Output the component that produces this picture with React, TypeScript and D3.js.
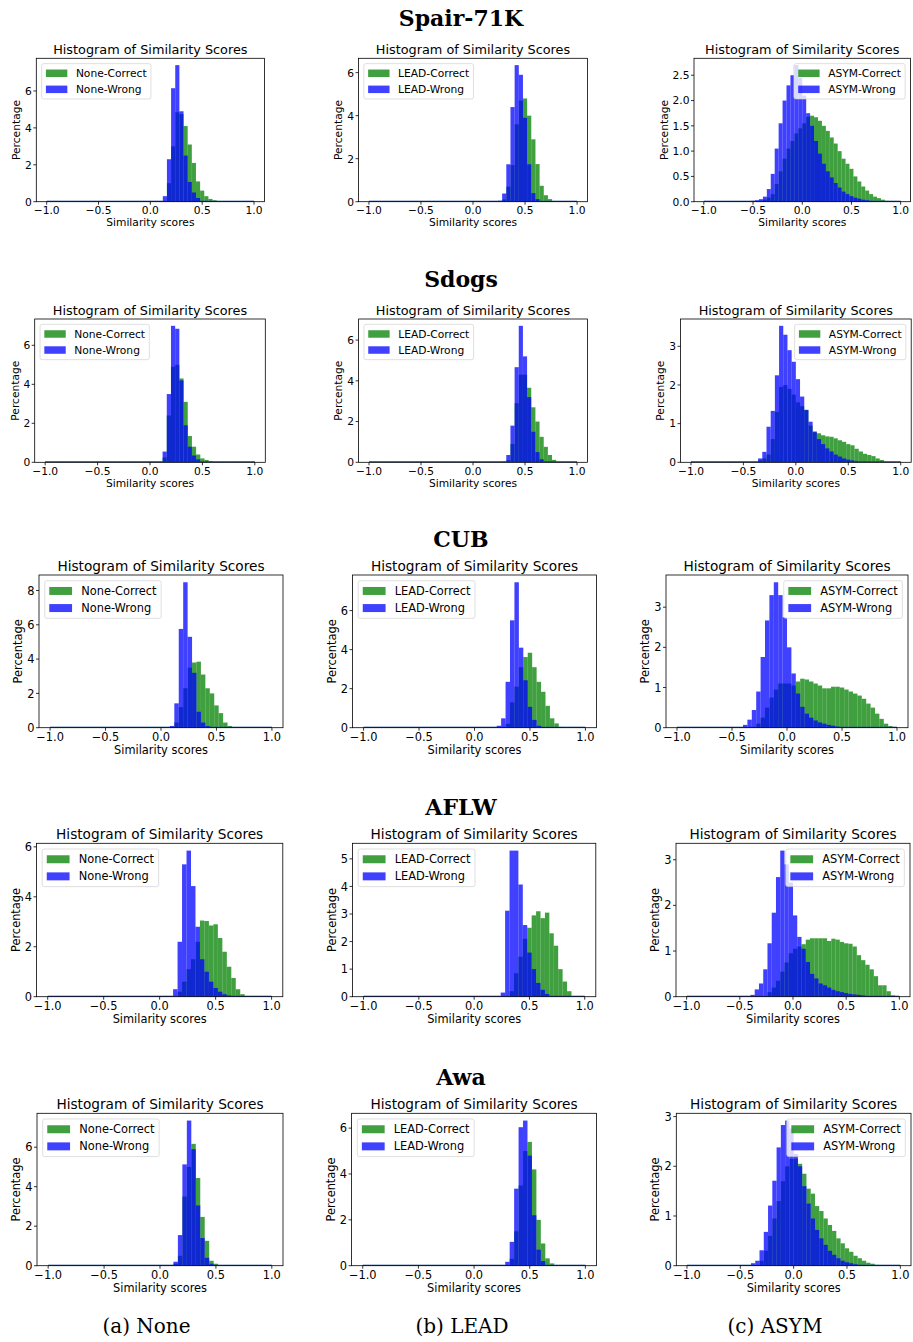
import React from 'react';
import * as d3 from 'd3';

// ---- histogram setup (50 bins over [-1, 1]) ----
const BIN_START = -1;
const BIN_WIDTH = 0.04;
const BIN_COUNT = 50;
const TAIL = 0.01; // near-zero density seen as a thin line along the x axis
const X_TICKS = [-1, -0.5, 0, 0.5, 1];

const datasetNames = ['Spair-71K', 'Sdogs', 'CUB', 'AFLW', 'Awa'];
const methodNames = ['None', 'LEAD', 'ASYM'];
const captionLabels = ['(a) None', '(b) LEAD', '(c) ASYM'];
const legendCorner = ['left', 'left', 'right'];

// density values (percentage axis), "first" = index of the first listed bin
const spairNoneCorrect = { first: 28, values: [0.05, 1.0, 3.0, 4.85, 4.75, 4.1, 3.1, 2.1, 1.1, 0.6, 0.3, 0.15, 0.08, 0.03] };
const spairNoneWrong = { first: 28, values: [0.3, 2.3, 6.15, 7.4, 4.9, 2.5, 1.07, 0.5, 0.2] };
const spairLeadCorrect = { first: 32, values: [0.1, 0.7, 1.7, 3.6, 4.7, 4.8, 4.0, 2.9, 1.75, 0.74, 0.3, 0.12, 0.04] };
const spairLeadWrong = { first: 31, values: [0.05, 0.38, 1.74, 4.4, 6.35, 5.9, 3.9, 1.74, 0.4, 0.12] };
const spairAsymCorrect = { first: 14, values: [0.02, 0.04, 0.08, 0.15, 0.35, 0.6, 0.85, 1.05, 1.2, 1.35, 1.45, 1.55, 1.68, 1.7, 1.67, 1.6, 1.5, 1.4, 1.27, 1.15, 1.0, 0.85, 0.75, 0.65, 0.5, 0.4, 0.3, 0.22, 0.15, 0.1, 0.07, 0.04, 0.02] };
const spairAsymWrong = { first: 12, values: [0.02, 0.03, 0.05, 0.1, 0.25, 0.55, 1.05, 1.55, 2.0, 2.3, 2.5, 2.7, 2.45, 2.1, 1.75, 1.5, 1.2, 0.95, 0.75, 0.6, 0.48, 0.37, 0.28, 0.2, 0.15, 0.11, 0.08, 0.06, 0.04, 0.03, 0.02] };

const sdogsNoneCorrect = { first: 28, values: [0.25, 2.4, 4.9, 5.0, 4.3, 3.1, 1.35, 0.8, 0.4, 0.2, 0.12, 0.06, 0.03] };
const sdogsNoneWrong = { first: 28, values: [0.55, 3.5, 7.0, 6.85, 4.2, 1.9, 0.8, 0.35, 0.15] };
const sdogsLeadCorrect = { first: 33, values: [0.1, 0.9, 2.9, 4.3, 4.3, 3.66, 2.7, 2.0, 1.25, 0.76, 0.36, 0.12, 0.04] };
const sdogsLeadWrong = { first: 32, values: [0.05, 0.36, 1.8, 4.67, 6.7, 5.2, 3.2, 1.5, 0.5, 0.15] };
const sdogsAsymCorrect = { first: 16, values: [0.05, 0.1, 0.2, 0.6, 1.3, 1.95, 2.0, 1.9, 1.75, 1.55, 1.45, 1.36, 0.95, 0.8, 0.75, 0.7, 0.67, 0.66, 0.62, 0.57, 0.53, 0.47, 0.44, 0.35, 0.28, 0.22, 0.19, 0.16, 0.1, 0.06, 0.02] };
const sdogsAsymWrong = { first: 16, values: [0.1, 0.27, 0.92, 1.33, 2.25, 3.53, 3.3, 2.9, 2.6, 2.15, 1.7, 1.35, 1.05, 0.78, 0.6, 0.47, 0.36, 0.28, 0.2, 0.15, 0.1, 0.07, 0.05, 0.03, 0.02] };

const cubNoneCorrect = { first: 28, values: [0.3, 1.2, 2.3, 3.5, 3.8, 3.85, 3.1, 2.3, 2.0, 1.3, 0.85, 0.3, 0.1] };
const cubNoneWrong = { first: 27, values: [0.1, 1.42, 5.76, 8.48, 5.3, 3.2, 0.93, 0.3, 0.1] };
const cubLeadCorrect = { first: 32, values: [0.2, 1.3, 2.1, 3.1, 3.62, 3.84, 3.1, 2.35, 1.84, 1.12, 0.48, 0.22, 0.05] };
const cubLeadWrong = { first: 30, values: [0.1, 0.48, 2.35, 5.5, 7.45, 4.1, 2.43, 1.07, 0.4, 0.1] };
const cubAsymCorrect = { first: 18, values: [0.1, 0.25, 0.5, 0.75, 0.95, 1.1, 1.1, 1.1, 1.05, 1.15, 1.22, 1.2, 1.15, 1.1, 1.05, 0.98, 0.98, 1.02, 1.02, 1.0, 0.95, 0.9, 0.85, 0.8, 0.72, 0.6, 0.5, 0.35, 0.22, 0.1, 0.04] };
const cubAsymWrong = { first: 15, values: [0.07, 0.2, 0.44, 0.9, 1.76, 2.67, 3.3, 3.62, 3.3, 2.75, 2.0, 1.35, 0.85, 0.52, 0.35, 0.25, 0.18, 0.13, 0.1, 0.07, 0.05, 0.03, 0.02] };

const aflwNoneCorrect = { first: 29, values: [0.2, 0.6, 1.1, 1.5, 2.2, 3.05, 3.03, 2.85, 2.9, 2.35, 1.8, 1.2, 0.75, 0.3, 0.1] };
const aflwNoneWrong = { first: 28, values: [0.3, 2.2, 5.3, 5.85, 4.43, 2.8, 1.5, 1.0, 0.6, 0.35, 0.2, 0.1, 0.05] };
const aflwLeadCorrect = { first: 33, values: [0.2, 0.85, 1.45, 2.1, 2.5, 2.95, 3.1, 2.85, 3.05, 2.3, 1.85, 1.0, 0.55, 0.2] };
const aflwLeadWrong = { first: 31, values: [0.15, 3.12, 5.3, 5.3, 4.07, 2.6, 1.6, 1.0, 0.5, 0.25, 0.1] };
const aflwAsymCorrect = { first: 19, values: [0.1, 0.2, 0.35, 0.55, 0.75, 0.95, 1.05, 1.1, 1.15, 1.25, 1.28, 1.28, 1.28, 1.28, 1.22, 1.27, 1.25, 1.2, 1.17, 1.16, 1.1, 0.91, 0.8, 0.7, 0.6, 0.45, 0.25, 0.25, 0.12, 0.03] };
const aflwAsymWrong = { first: 15, values: [0.04, 0.16, 0.29, 0.6, 1.17, 1.84, 2.62, 3.2, 2.9, 2.5, 1.78, 1.31, 1.05, 0.76, 0.5, 0.4, 0.29, 0.25, 0.2, 0.15, 0.12, 0.1, 0.08, 0.06, 0.05, 0.04, 0.03] };

const awaNoneCorrect = { first: 28, values: [0.1, 0.5, 3.5, 5.0, 6.17, 4.44, 2.47, 1.26, 0.25, 0.1] };
const awaNoneWrong = { first: 28, values: [0.2, 1.55, 5.13, 7.35, 5.9, 3.05, 1.4, 0.4, 0.1] };
const awaLeadCorrect = { first: 33, values: [0.3, 1.5, 3.5, 5.0, 5.4, 4.2, 2.0, 0.97, 0.32, 0.1] };
const awaLeadWrong = { first: 32, values: [0.17, 1.04, 3.36, 6.04, 6.33, 4.8, 2.2, 0.7, 0.2] };
const awaAsymCorrect = { first: 17, values: [0.1, 0.3, 0.6, 0.95, 1.3, 1.7, 2.0, 2.15, 2.15, 2.05, 1.85, 1.55, 1.45, 1.2, 1.1, 0.95, 0.82, 0.7, 0.55, 0.45, 0.35, 0.28, 0.2, 0.15, 0.1, 0.06, 0.04, 0.02] };
const awaAsymWrong = { first: 15, values: [0.05, 0.1, 0.31, 0.68, 1.21, 1.71, 2.38, 2.83, 2.92, 2.76, 2.25, 2.0, 1.6, 1.25, 0.95, 0.72, 0.55, 0.42, 0.3, 0.22, 0.15, 0.1, 0.07, 0.05, 0.03, 0.02] };

// y tick labels per panel
const spairYTicks = [[0, 2, 4, 6], [0, 2, 4, 6], [0, 0.5, 1, 1.5, 2, 2.5]];
const sdogsYTicks = [[0, 2, 4, 6], [0, 2, 4, 6], [0, 1, 2, 3]];
const cubYTicks = [[0, 2, 4, 6, 8], [0, 2, 4, 6], [0, 1, 2, 3]];
const aflwYTicks = [[0, 2, 4, 6], [0, 1, 2, 3, 4, 5], [0, 1, 2, 3]];
const awaYTicks = [[0, 2, 4, 6], [0, 2, 4, 6], [0, 1, 2, 3]];

const panelData = [
  [[spairNoneCorrect, spairNoneWrong], [spairLeadCorrect, spairLeadWrong], [spairAsymCorrect, spairAsymWrong]],
  [[sdogsNoneCorrect, sdogsNoneWrong], [sdogsLeadCorrect, sdogsLeadWrong], [sdogsAsymCorrect, sdogsAsymWrong]],
  [[cubNoneCorrect, cubNoneWrong], [cubLeadCorrect, cubLeadWrong], [cubAsymCorrect, cubAsymWrong]],
  [[aflwNoneCorrect, aflwNoneWrong], [aflwLeadCorrect, aflwLeadWrong], [aflwAsymCorrect, aflwAsymWrong]],
  [[awaNoneCorrect, awaNoneWrong], [awaLeadCorrect, awaLeadWrong], [awaAsymCorrect, awaAsymWrong]],
];
const panelYTicks = [spairYTicks, sdogsYTicks, cubYTicks, aflwYTicks, awaYTicks];

// ---- layout (page pixels) ----
const W = 913;
const H = 1342;
const rowTop = [58.3, 319, 575, 843.3, 1113.3];
const rowBottom = [201.7, 462.3, 727.7, 996.7, 1265.7];
const rowFont = [10.7, 10.7, 11.4, 11.4, 11.4];
const rowTitleBase = [26, 287, 547, 815, 1085];
const colFrames = [
  [[36.3, 264.4], [358.5, 587.5], [694, 910.5]],
  [[34.7, 265.3], [358.6, 587.4], [680.5, 911.2]],
  [[39, 283], [352.5, 596.5], [666, 908]],
  [[36.5, 282.8], [352.5, 595.8], [676, 910]],
  [[37, 283], [351.6, 596.5], [676.3, 911]],
];
const captionX = [146.5, 462, 775];
const captionBase = 1333;

const SANS = '"DejaVu Sans", sans-serif';
const SERIF = '"DejaVu Serif", serif';
const GREEN = '#008000';
const BLUE = '#0000ff';
const ALPHA = 0.75;

let measureCtx: CanvasRenderingContext2D | null = null;
const textWidth = (s: string, fs: number) => {
  if (!measureCtx) measureCtx = document.createElement('canvas').getContext('2d');
  if (!measureCtx) return s.length * fs * 0.6;
  measureCtx.font = `${fs}px "DejaVu Sans"`;
  return measureCtx.measureText(s).width;
};

const expand = (s: { first: number; values: number[] }) =>
  d3.range(BIN_COUNT).map((k) => {
    const i = k - s.first;
    return i >= 0 && i < s.values.length ? s.values[i] : TAIL;
  });

const fmtX = d3.format('.1f');

function Panel({ row, col }: { row: number; col: number }) {
  const [left, right] = colFrames[row][col];
  const top = rowTop[row];
  const bottom = rowBottom[row];
  const fs = rowFont[row];
  const [correct, wrong] = panelData[row][col];
  const yTicks = panelYTicks[row][col];
  const method = methodNames[col];

  const x = d3.scaleLinear().domain([-1.1, 1.1]).range([left, right]);
  const yMax = (d3.max([...correct.values, ...wrong.values]) as number) * 1.05;
  const y = d3.scaleLinear().domain([0, yMax]).range([bottom, top]);

  const edges = d3.range(BIN_COUNT).map((k) => BIN_START + k * BIN_WIDTH);
  const decimals = yTicks.some((t) => !Number.isInteger(t));
  const fmtY = decimals ? d3.format('.1f') : d3.format('d');
  const maxTickW = d3.max(yTicks, (t) => textWidth(fmtY(t), fs)) as number;

  const bars = (series: number[], color: string) => (
    <g fill={color} fillOpacity={ALPHA}>
      {edges.map((e, k) => {
        const h = Math.max(y(0) - y(series[k]), 0.9);
        return <rect key={k} x={x(e)} width={x(e + BIN_WIDTH) - x(e)} y={y(0) - h} height={h} />;
      })}
    </g>
  );

  // legend (matplotlib-like metrics, in font units)
  const labels = [`${method}-Correct`, `${method}-Wrong`];
  const pad = 0.4 * fs;
  const rowH = fs;
  const boxW = 2 * pad + 2.8 * fs + (d3.max(labels, (l) => textWidth(l, fs)) as number);
  const boxH = 2 * pad + 2 * rowH + 0.5 * fs;
  const boxX = legendCorner[col] === 'left' ? left + 0.5 * fs : right - 0.5 * fs - boxW;
  const boxY = top + 0.5 * fs;

  return (
    <g fontFamily={SANS} fill="#000">
      <text x={(left + right) / 2} y={top - 4} textAnchor="middle" fontSize={1.2 * fs}>
        Histogram of Similarity Scores
      </text>
      {bars(expand(correct), GREEN)}
      {bars(expand(wrong), BLUE)}
      <rect x={left} y={top} width={right - left} height={bottom - top} fill="none" stroke="#000" strokeWidth={0.8} />
      {X_TICKS.map((t) => (
        <g key={t}>
          <line x1={x(t)} x2={x(t)} y1={bottom} y2={bottom + 3} stroke="#000" strokeWidth={0.8} />
          <text x={x(t)} y={bottom + 4.5 + 0.75 * fs} textAnchor="middle" fontSize={fs}>
            {fmtX(t)}
          </text>
        </g>
      ))}
      {yTicks.map((t) => (
        <g key={t}>
          <line x1={left - 3} x2={left} y1={y(t)} y2={y(t)} stroke="#000" strokeWidth={0.8} />
          <text x={left - 4.5} y={y(t)} dy="0.36em" textAnchor="end" fontSize={fs}>
            {fmtY(t)}
          </text>
        </g>
      ))}
      <text x={(left + right) / 2} y={bottom + 2.3 * fs} textAnchor="middle" fontSize={fs}>
        Similarity scores
      </text>
      <text
        transform={`translate(${left - 4.5 - maxTickW - 0.8 * fs},${(top + bottom) / 2}) rotate(-90)`}
        dy="0.35em"
        textAnchor="middle"
        fontSize={fs}
      >
        Percentage
      </text>
      <rect x={boxX} y={boxY} width={boxW} height={boxH} rx={2} fill="#fff" fillOpacity={0.8} stroke="#ccc" strokeOpacity={0.8} strokeWidth={0.8} />
      {labels.map((l, i) => {
        const cy = boxY + pad + rowH / 2 + i * (rowH + 0.5 * fs);
        return (
          <g key={l}>
            <rect x={boxX + pad} y={cy - 0.35 * fs} width={2 * fs} height={0.7 * fs} fill={i === 0 ? GREEN : BLUE} fillOpacity={ALPHA} />
            <text x={boxX + pad + 2.8 * fs} y={cy} dy="0.36em" fontSize={fs}>
              {l}
            </text>
          </g>
        );
      })}
    </g>
  );
}

export default function App() {
  return (
    <svg width={W} height={H} style={{ position: 'absolute', left: 0, top: 0, background: '#fff' }}>
      <rect width={W} height={H} fill="#fff" />
      {datasetNames.map((name, r) => (
        <g key={name}>
          <text x={461} y={rowTitleBase[r]} textAnchor="middle" fontFamily={SERIF} fontWeight="bold" fontSize={22}>
            {name}
          </text>
          {methodNames.map((m, c) => (
            <Panel key={m} row={r} col={c} />
          ))}
        </g>
      ))}
      {captionLabels.map((c, i) => (
        <text key={c} x={captionX[i]} y={captionBase} textAnchor="middle" fontFamily={SERIF} fontSize={20}>
          {c}
        </text>
      ))}
    </svg>
  );
}
